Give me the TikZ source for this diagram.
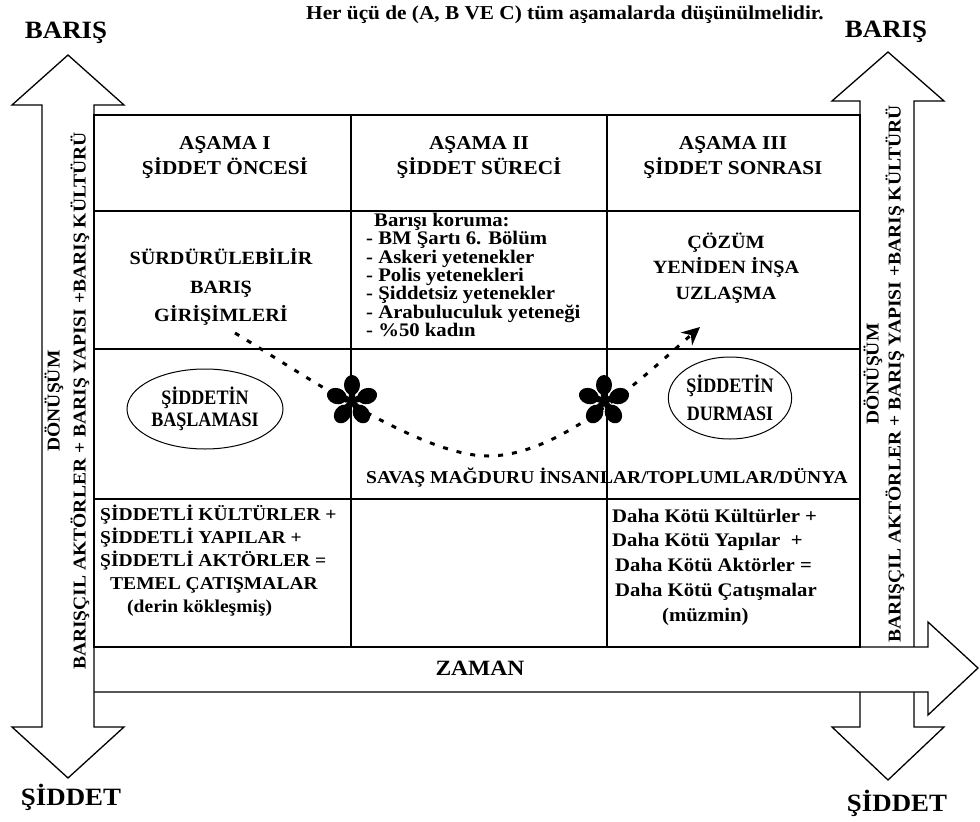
\documentclass[tikz,border=0pt]{standalone}
\usepackage{fontspec}
\setmainfont[FakeStretch=1.08]{Liberation Serif}
\newfontfamily\narrowserif[FakeStretch=0.88]{Liberation Serif}
\usetikzlibrary{arrows.meta,shapes.geometric}

\tikzset{flower/.pic={
  \foreach \ang in {90,18,-54,-126,162} {
    \fill [black, rotate=\ang] (16pt,0pt) ellipse [x radius=10pt, y radius=8pt];
    \fill [black, rotate=\ang] (0pt,-2.5pt) -- (9pt,-3.5pt) -- (9pt,3.5pt) -- (0pt,2.5pt) -- cycle;
  }
  \fill [black] (0pt,0pt) circle (3.5pt);
}}

\begin{document}
\begin{tikzpicture}[x=1pt,y=-1pt]
\tikzstyle{every node}+=[inner sep=0pt]
\tikzstyle{bigarrow}=[black, line width=1.3pt, fill=white, line join=miter]
\tikzstyle{grid}=[black, line width=1.3pt]
\tikzstyle{cell}=[font=\fontsize{18.7}{18.7}\selectfont\bfseries, align=center]
\tikzstyle{oval}=[ellipse, draw=black, line width=1pt, align=center]
\useasboundingbox (0,0) rectangle (980,822);
% arrows
\draw [bigarrow] (860,727) -- (860,101) -- (832,101) -- (888,52) -- (944,101) -- (914,101) -- (914,727) -- (944,727) -- (888,780) -- (832,727) -- cycle;
\draw [bigarrow] (94,647) -- (928,647) -- (928,622) -- (978,668) -- (928,715) -- (928,692) -- (94,692);
\draw [bigarrow] (42,727) -- (42,105) -- (12,105) -- (68,55) -- (124,105) -- (94,105) -- (94,727) -- (124,727) -- (68,778) -- (12,727) -- cycle;
% table
\draw [grid] (94,115) rectangle (860,647);
\draw [grid] (94,211) -- (860,211);
\draw [grid] (94,349) -- (860,349);
\draw [grid] (94,499) -- (860,499);
\draw [grid] (351,115) -- (351,647);
\draw [grid] (607,115) -- (607,647);
% labels
\node (title) [anchor=base, font=\fontsize{19.7}{19.7}\selectfont\bfseries] at (565,19) {Her üçü de (A, B VE C) tüm aşamalarda düşünülmelidir.};
\node (barisL) [font=\fontsize{24.9}{24.9}\selectfont\bfseries] at (66,33) {BARIŞ};
\node (barisR) [font=\fontsize{24.9}{24.9}\selectfont\bfseries] at (886,32) {BARIŞ};
\node (siddetL) [font=\fontsize{24.9}{24.9}\selectfont\bfseries] at (71,797) {ŞİDDET};
\node (siddetR) [font=\fontsize{24.9}{24.9}\selectfont\bfseries] at (897,803) {ŞİDDET};
\node (donusumL) [rotate=90, align=center, font=\fontsize{18.1}{26}\selectfont\bfseries] at (67,401) {DÖNÜŞÜM\\BARIŞÇIL AKTÖRLER + BARIŞ YAPISI +BARIŞ KÜLTÜRÜ};
\node (donusumR) [rotate=90, align=center, font=\fontsize{18.1}{22}\selectfont\bfseries] at (884,374) {DÖNÜŞÜM\\BARIŞÇIL AKTÖRLER + BARIŞ YAPISI +BARIŞ KÜLTÜRÜ};
\node (zaman) [font=\fontsize{21.8}{21.8}\selectfont\bfseries] at (480,668) {ZAMAN};
% cells
\node (asama1) [cell, font=\fontsize{19.7}{25}\selectfont\bfseries] at (225,158) {AŞAMA I\\ŞİDDET ÖNCESİ};
\node (asama2) [cell, font=\fontsize{19.7}{25}\selectfont\bfseries] at (479,158) {AŞAMA II\\ŞİDDET SÜRECİ};
\node (asama3) [cell, font=\fontsize{19.7}{25}\selectfont\bfseries] at (733,158) {AŞAMA III\\ŞİDDET SONRASI};
\node (girisim) [cell, font=\fontsize{18.7}{28.5}\selectfont\bfseries] at (221,287) {SÜRDÜRÜLEBİLİR\\BARIŞ\\GİRİŞİMLERİ};
\node (koruma) [anchor=west, align=left, font=\fontsize{19.2}{18.3}\selectfont\bfseries] at (366,275) {\hspace*{8pt}Barışı koruma:\\- BM Şartı 6. Bölüm\\- Askeri yetenekler\\- Polis yetenekleri\\- Şiddetsiz yetenekler\\- Arabuluculuk yeteneği\\- \%50 kadın};
\node (cozum) [cell, font=\fontsize{18.7}{25.5}\selectfont\bfseries] at (726,268) {ÇÖZÜM\\YENİDEN İNŞA\\UZLAŞMA};
\node (baslama) [oval, minimum width=156pt, minimum height=80pt, font=\narrowserif\fontsize{20.5}{22}\selectfont\bfseries] at (205,409) {ŞİDDETİN\\BAŞLAMASI};
\node (durma) [oval, minimum width=118pt, minimum height=82pt, font=\narrowserif\fontsize{20.5}{28}\selectfont\bfseries] at (730,398) {ŞİDDETİN\\DURMASI};
\node (magdur) [font=\fontsize{18.1}{18.1}\selectfont\bfseries] at (607,478) {SAVAŞ MAĞDURU İNSANLAR/TOPLUMLAR/DÜNYA};
\node (temel) [anchor=west, align=left, font=\fontsize{18.1}{23}\selectfont\bfseries] at (100,561) {ŞİDDETLİ KÜLTÜRLER +\\ŞİDDETLİ YAPILAR +\\ŞİDDETLİ AKTÖRLER =\\\hspace*{10pt}TEMEL ÇATIŞMALAR\\\hspace*{27pt}(derin kökleşmiş)};
\node (kotu) [anchor=west, align=left, font=\fontsize{19.2}{24.7}\selectfont\bfseries] at (612,567) {Daha Kötü Kültürler +\\Daha Kötü Yapılar \ +\\\hspace*{3pt}Daha Kötü Aktörler =\\\hspace*{3pt}Daha Kötü Çatışmalar\\\hspace*{50pt}(müzmin)};
% path of violence
\pic (starA) at (352,401) {flower};
\pic (starB) at (604,401) {flower};
\coordinate (pathstart) at (235,333);
\coordinate (pathbottom) at (488,456);
\coordinate (pathend) at (700,327);
\draw [black, line width=3pt, dash pattern=on 5pt off 9pt, -{Stealth[length=18pt,width=17pt]}] (pathstart) .. controls (300,372) and (420,456) .. (pathbottom) .. controls (560,456) and (640,380) .. (pathend);
\end{tikzpicture}
\end{document}
